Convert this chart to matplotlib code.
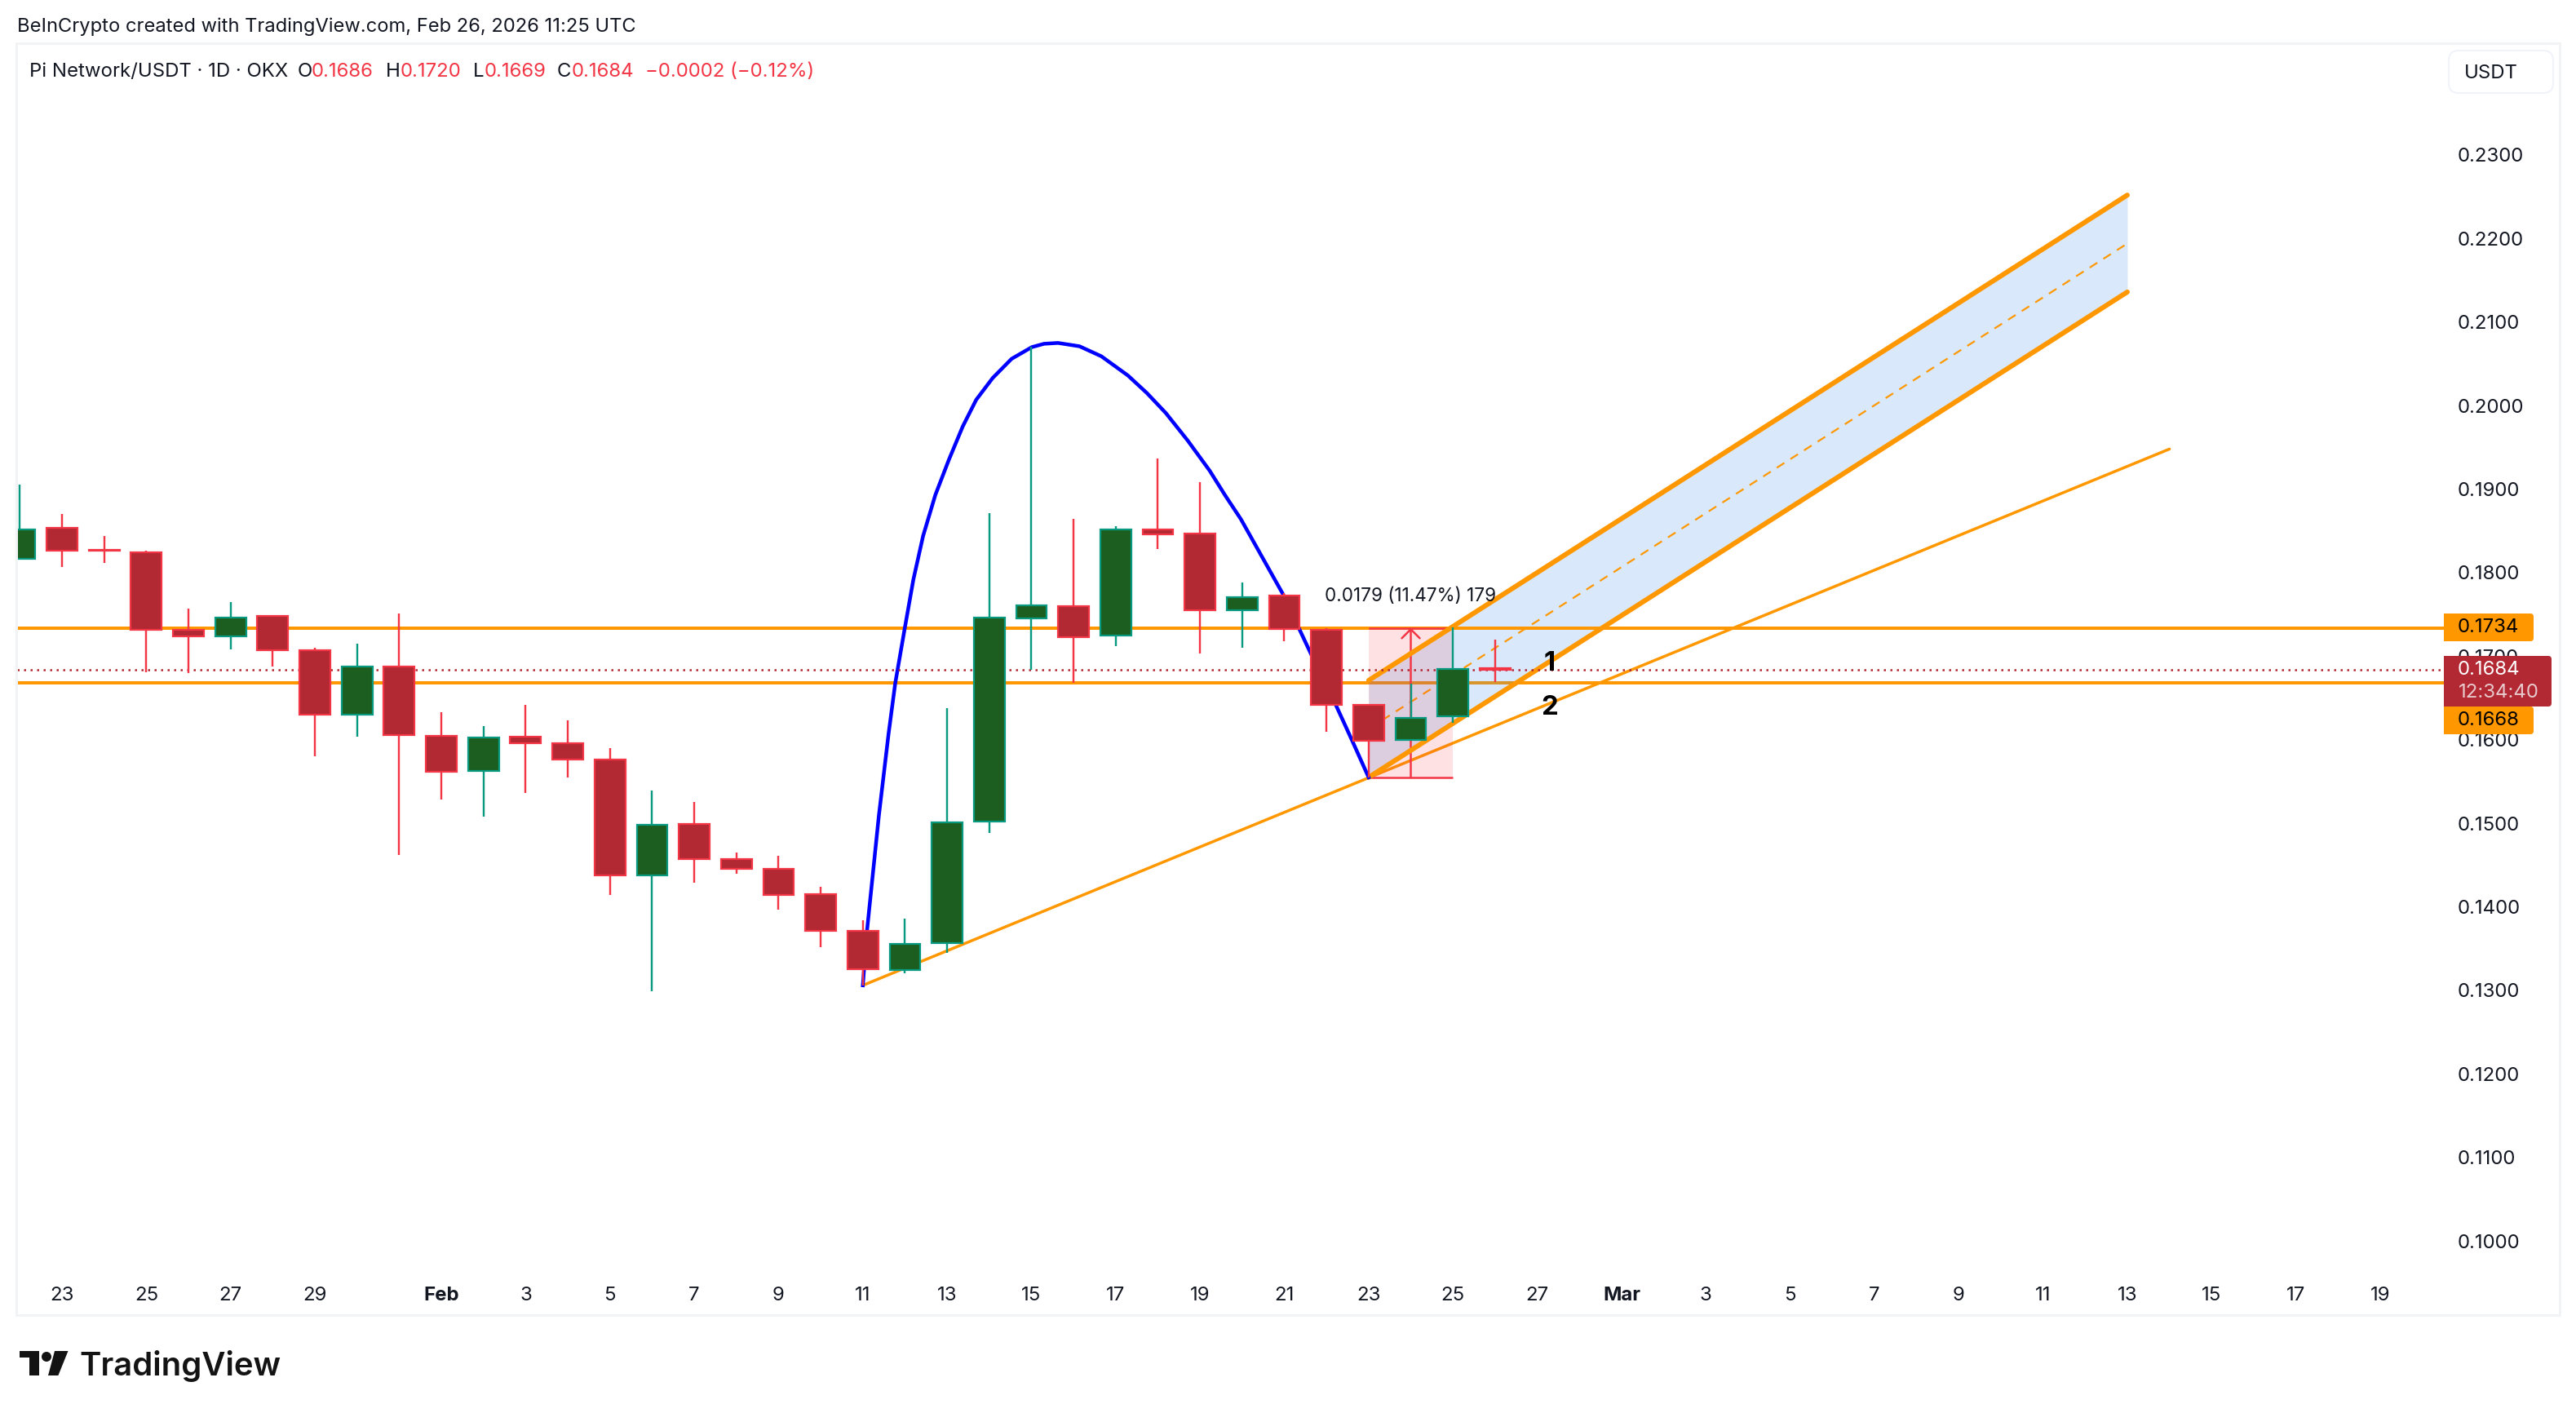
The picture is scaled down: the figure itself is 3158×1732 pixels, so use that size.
#!/usr/bin/env python3

import numpy as np
import matplotlib as mpl
mpl.use('Agg')
import matplotlib.pyplot as plt
from matplotlib.patches import FancyBboxPatch, Polygon, Circle, Rectangle

mpl.rcParams['font.family'] = ['Inter', 'DejaVu Sans']

# candles, day 0 is Jan 23
days = np.arange(-1, 35)
opens = [.1817, .1854, .1827, .1824, .1732, .1724, .1748, .1707, .1630, .1688, .1605, .1563,
         .1604, .1596, .1576, .1438, .1499, .1457, .1445, .1415, .1371, .1324, .1357, .1502,
         .1745, .1760, .1725, .1852, .1847, .1755, .1773, .1732, .1642, .1600, .1628, .1686]
highs = [.1905, .1870, .1844, .1826, .1757, .1765, .1748, .1710, .1715, .1751, .1633, .1616,
         .1642, .1623, .1590, .1539, .1526, .1465, .1461, .1424, .1384, .1386, .1638, .1871,
         .2070, .1864, .1856, .1937, .1908, .1788, .1776, .1734, .1642, .1667, .1735, .1720]
lows = [.1817, .1807, .1812, .1681, .1680, .1708, .1688, .1580, .1604, .1462, .1528, .1508,
        .1536, .1555, .1414, .1299, .1429, .1440, .1397, .1352, .1306, .1320, .1345, .1488,
        .1684, .1668, .1712, .1828, .1703, .1710, .1718, .1610, .1555, .1600, .1620, .1669]
closes = [.1852, .1826, .1826, .1732, .1724, .1746, .1707, .1630, .1688, .1606, .1562, .1603,
          .1596, .1576, .1438, .1498, .1457, .1445, .1414, .1371, .1325, .1356, .1501, .1746,
          .1761, .1723, .1852, .1846, .1755, .1771, .1733, .1642, .1599, .1626, .1685, .1684]

# arc drawing
arc_days = [19.0, 19.10, 19.38, 19.61, 19.77, 20.0, 20.20, 20.43, 20.72, 21.04, 21.37, 21.69, 22.08,
            22.53, 23.01, 23.30, 23.63, 24.14, 24.66, 25.29, 25.74, 26.19, 26.71, 27.23, 27.59,
            27.97, 28.96, 29.63, 30.21, 30.60, 31.0]
arc_prices = [.1306, .1372, .1509, .1607, .1668, .1735, .1792, .1844, .1893, .1935, .1975, .2007, .2033,
              .2056, .2070, .2074, .2075, .2071, .2059, .2036, .2015, .1991, .1958, .1922, .1893,
              .1864, .1775, .1703, .1643, .1600, .1555]

# channel and trend line
channel_days = [31, 49]
channel_upper = [.1671, .2252]
channel_lower = [.1555, .2136]
channel_mid = [.1613, .2194]
trend_days = [19, 50]
trend_prices = [.1306, .1948]

# measure tool
measure_days = [31, 33]
measure_low = .1555
measure_high = .1734
measure_label = '0.0179 (11.47%) 179'

level_high = .1734
level_low = .1668
last_price = .1684

price_ticks = [.10, .11, .12, .13, .14, .15, .16, .17, .18, .19, .20, .21, .22, .23]
date_ticks = [0, 2, 4, 6, 9, 11, 13, 15, 17, 19, 21, 23, 25, 27, 29, 31, 33, 35, 37,
              39, 41, 43, 45, 47, 49, 51, 53, 55]
date_labels = ['23', '25', '27', '29', 'Feb', '3', '5', '7', '9', '11', '13', '15', '17', '19',
               '21', '23', '25', '27', 'Mar', '3', '5', '7', '9', '11', '13', '15', '17', '19']

RED = '#F23645'
RED_BODY = '#B22833'
GREEN = '#089981'
GREEN_BODY = '#1B5E20'
ORANGE = '#FF9800'
TEXT = '#131722'
W, H = 3158, 1732


def px(n):
    return n * 72 / 100


fig = plt.figure(figsize=(W / 100, H / 100), dpi=100, facecolor='white')

# chart pane
ax = fig.add_axes([21 / W, 1 - 1557 / H, (2996 - 21) / W, (1557 - 55) / H])
ax.set_xlim(-1.0645, 56.51)
ax.set_ylim(.09650, .24318)
for s in ax.spines.values():
    s.set_visible(False)

ax.yaxis.tick_right()
ax.set_yticks(price_ticks)
ax.set_yticklabels(['{:.4f}'.format(p) for p in price_ticks])
ax.set_xticks(date_ticks)
ax.set_xticklabels(date_labels)
ax.tick_params(axis='y', length=0, pad=px(17), labelsize=px(24), labelcolor=TEXT)
ax.tick_params(axis='x', length=0, pad=px(20), labelsize=px(24), labelcolor=TEXT)
for lab in ax.get_xticklabels():
    if lab.get_text() in ('Feb', 'Mar'):
        lab.set_fontweight('bold')

ax.axhline(level_low, color=ORANGE, lw=px(4), zorder=1)
ax.fill_between(channel_days, channel_lower, channel_upper, color=(65 / 255, 140 / 255, 230 / 255),
                alpha=.2, lw=0, zorder=2)
ax.axhline(level_high, color=ORANGE, lw=px(4), zorder=3)
ax.plot(trend_days, trend_prices, color=ORANGE, lw=px(3.5), solid_capstyle='round', zorder=3)
ax.plot(channel_days, channel_mid, color=ORANGE, lw=px(2.2), dashes=(5, 4), zorder=3)

# measure tool
ax.fill_between(measure_days, measure_low, measure_high, color=RED, alpha=.15, lw=0, zorder=4)
ax.hlines([measure_low, measure_high], measure_days[0], measure_days[1], color=RED, lw=px(2.5), zorder=4.5)
ax.annotate('', xy=(32, measure_high), xytext=(32, measure_low), zorder=4.5,
            arrowprops=dict(arrowstyle='->,head_length={},head_width={}'.format(px(11), px(11)),
                            color=RED, lw=px(2.5), shrinkA=0, shrinkB=0, mutation_scale=1))

ax.plot(channel_days, channel_upper, color=ORANGE, lw=px(6), solid_capstyle='round', zorder=5)
ax.plot(channel_days, channel_lower, color=ORANGE, lw=px(6), solid_capstyle='round', zorder=5)
ax.plot(arc_days, arc_prices, color='#0000FF', lw=px(4.5), solid_joinstyle='round', zorder=5)
ax.axhline(last_price, color=RED_BODY, lw=px(2.5), dashes=(1, 2.2), zorder=5)

# candles
opens = np.array(opens)
closes = np.array(closes)
up = closes >= opens
ax.vlines(days[up], np.array(lows)[up], np.array(highs)[up], color=GREEN, lw=px(2.4), zorder=6)
ax.vlines(days[~up], np.array(lows)[~up], np.array(highs)[~up], color=RED, lw=px(2.4), zorder=6)
bar_w = 37.8 / 51.67
ax.bar(days[up], (closes - opens)[up], bottom=opens[up], width=bar_w, color=GREEN_BODY,
       edgecolor=GREEN, linewidth=px(2.2), zorder=6.5)
ax.bar(days[~up], (closes - opens)[~up], bottom=opens[~up], width=bar_w, color=RED_BODY,
       edgecolor=RED, linewidth=px(2.2), zorder=6.5)

ax.text(32.0, .1772, measure_label, fontsize=px(22.5), color=TEXT, ha='center', va='center', zorder=8)
ax.text(35.3, .1691, '1', fontsize=px(33), fontweight='bold', color='black', ha='center', va='center', zorder=8)
ax.text(35.3, .1638, '2', fontsize=px(33), fontweight='bold', color='black', ha='center', va='center', zorder=8)

# page furniture in pixel coordinates
ui = fig.add_axes([0, 0, 1, 1], facecolor='none')
ui.set_xlim(0, W)
ui.set_ylim(H, 0)
ui.axis('off')

ui.add_patch(Rectangle((20, 53), 3118, 1559, fill=False, edgecolor='#F2F3F5', lw=px(3)))
ui.text(21, 33, 'BeInCrypto created with TradingView.com, Feb 26, 2026 11:25 UTC',
        fontsize=px(23.7), color=TEXT, va='center')

legend_parts = [(36, 'Pi Network/USDT · 1D · OKX', TEXT), (365, 'O', TEXT), (382, '0.1686', RED),
                (473, 'H', TEXT), (491, '0.1720', RED), (580, 'L', TEXT), (594, '0.1669', RED),
                (683, 'C', TEXT), (701, '0.1684', RED), (791, '\u22120.0002 (\u22120.12%)', RED)]
for x, s, c in legend_parts:
    ui.text(x, 88, s, fontsize=px(24), color=c, va='center')


def tag(x0, y0, x1, y1, color):
    ui.add_patch(FancyBboxPatch((x0 + 4, y0 + 4), x1 - x0 - 8, y1 - y0 - 8, boxstyle='round,pad=4,rounding_size=4',
                                facecolor=color, edgecolor='none', zorder=3))
    ui.add_patch(Rectangle((x0, y0), 10, y1 - y0, facecolor=color, edgecolor='none', zorder=3))


tag(2996, 752, 3106, 786, ORANGE)
tag(2996, 866, 3106, 900, ORANGE)
tag(2996, 804, 3128, 866, RED_BODY)
ui.text(3013, 769, '{:.4f}'.format(level_high), fontsize=px(24), color='black', va='center', zorder=4)
ui.text(3013, 883, '{:.4f}'.format(level_low), fontsize=px(24), color='black', va='center', zorder=4)
ui.text(3013, 821, '{:.4f}'.format(last_price), fontsize=px(24), color='white', va='center', zorder=4)
ui.text(3014, 849, '12:34:40', fontsize=px(24), color='#E8C9CC', va='center', zorder=4)

ui.add_patch(FancyBboxPatch((3012, 72), 108, 32, boxstyle='round,pad=10,rounding_size=12',
                            facecolor='white', edgecolor='#F0F3FA', lw=px(2)))
ui.text(3021, 90, 'USDT', fontsize=px(24), color=TEXT, va='center')

# TradingView logo
LOGO = '#131313'
ui.add_patch(Polygon([(24, 1656), (48, 1656), (48, 1686), (36, 1686), (36, 1664), (24, 1664)], facecolor=LOGO, lw=0))
ui.add_patch(Circle((57, 1663), 6, facecolor=LOGO, lw=0))
ui.add_patch(Polygon([(67, 1656), (83.5, 1656), (71.4, 1686), (59, 1686)], facecolor=LOGO, lw=0))
ui.text(97, 1675, 'TradingView', fontsize=px(40), fontweight='semibold', color=LOGO, va='center')

fig.savefig('out.png', dpi=100)
